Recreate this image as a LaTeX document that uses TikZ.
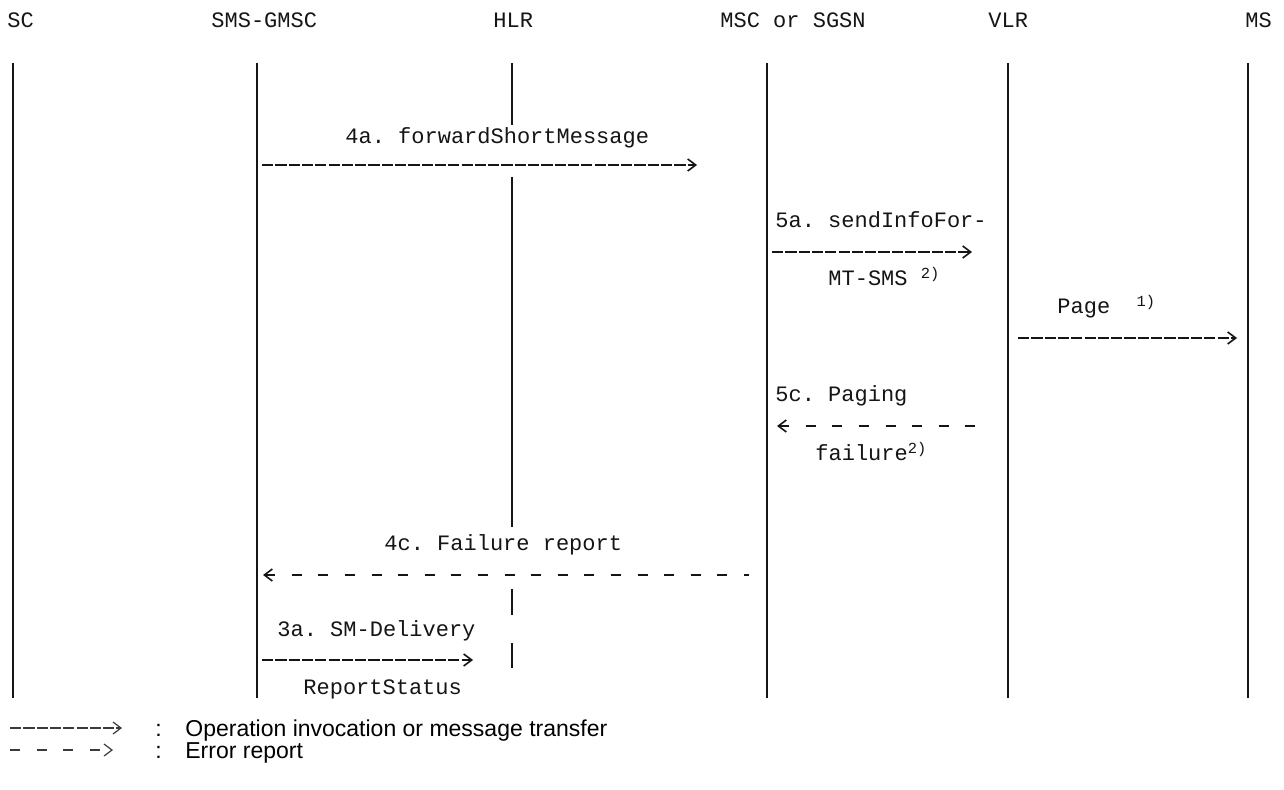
\documentclass[tikz,border=0pt]{standalone}
\usepackage{fontspec}
\setmainfont{Liberation Sans}
\setmonofont{Liberation Mono}
\usetikzlibrary{arrows.meta,positioning,calc}
\definecolor{Ink}{HTML}{151515}
\definecolor{Key}{HTML}{3A3A3A}

\tikzset{
  lbl/.style={font=\ttfamily\fontsize{11}{13}\selectfont, text=Ink, inner sep=0pt, anchor=base west},
  key/.style={font=\fontsize{11.5}{14}\selectfont, text=black, inner sep=0pt, anchor=base west},
  life/.style={draw=Ink, line width=0.9pt},
  msg/.style={draw=Ink, line width=0.8pt, dash pattern=on 5.6pt off 1.05pt},
  err/.style={draw=Ink, line width=0.8pt, dash pattern=on 5pt off 8.3pt},
}

\begin{document}
\begin{tikzpicture}[x=0.5pt, y=-0.5pt, >={Straight Barb[length=4pt,width=6pt]}]
  \fill[white] (0,0) rectangle (1284,790);
  \useasboundingbox (0,0) rectangle (1284,790);

  % entities
  \node[lbl] (sc)   at (7,28)    {SC};
  \node[lbl] (gmsc) at (211,28)  {SMS-GMSC};
  \node[lbl] (hlr)  at (493,28)  {HLR};
  \node[lbl] (msc)  at (720,28)  {MSC or SGSN};
  \node[lbl] (vlr)  at (988,28)  {VLR};
  \node[lbl] (ms)   at (1245,28) {MS};

  % life lines
  \foreach \n/\x in {sc/13, gmsc/257, msc/767, vlr/1008, ms/1248} {
    \coordinate (\n-t) at (\x,63);
    \coordinate (\n-b) at (\x,698);
    \draw[life] (\n-t) -- (\n-b);
  }
  % the HLR line is cut where the labels cross it
  \foreach \a/\b [count=\i] in {63/125, 177/527, 589/615, 643/668} {
    \coordinate (hlr-\i t) at (512,\a);
    \coordinate (hlr-\i b) at (512,\b);
    \draw[life] (hlr-\i t) -- (hlr-\i b);
  }

  % 4a
  \node[lbl] (t4a) at (345,144) {4a. forwardShortMessage};
  \coordinate (m4a-s) at (262,165);
  \coordinate (m4a-e) at (697,165);
  \draw[msg,->] (m4a-s) -- (m4a-e);

  % 5a
  \node[lbl] (t5a) at (775,228) {5a. sendInfoFor-};
  \coordinate (m5a-s) at (772,252);
  \coordinate (m5a-e) at (972,252);
  \draw[msg,->] (m5a-s) -- (m5a-e);
  \node[lbl] (t5a2) at (828,286) {MT-SMS \textsuperscript{2)}};

  % page
  \node[lbl] (tpg) at (1057,314) {Page~~\textsuperscript{1)}};
  \coordinate (mpg-s) at (1018,338);
  \coordinate (mpg-e) at (1237,338);
  \draw[msg,->] (mpg-s) -- (mpg-e);

  % 5c
  \node[lbl] (t5c) at (775,402) {5c. Paging};
  \coordinate (m5c-e) at (777,426);
  \coordinate (m5c-s) at (988,426);
  \draw[err,<-] (m5c-e) -- (m5c-s);
  \node[lbl] (t5c2) at (815,461) {failure\textsuperscript{2)}};

  % 4c
  \node[lbl] (t4c) at (384,551) {4c. Failure report};
  \coordinate (m4c-e) at (263,575);
  \coordinate (m4c-s) at (749,575);
  \draw[err,<-] (m4c-e) -- (m4c-s);

  % 3a
  \node[lbl] (t3a) at (277,636) {3a. SM-Delivery};
  \coordinate (m3a-s) at (262,660);
  \coordinate (m3a-e) at (473,660);
  \draw[msg,->] (m3a-s) -- (m3a-e);
  \node[lbl] (t3a2) at (303,694) {ReportStatus};

  % legend
  \coordinate (k1-s) at (10,728);
  \coordinate (k1-e) at (122,728);
  \draw[msg,->,draw=Key,line width=0.6pt] (k1-s) -- (k1-e);
  \node[key] (k1c) at (155,736) {:};
  \node[key] (k1t) at (185,736) {Operation invocation or message transfer};
  \coordinate (k2-s) at (10,750);
  \coordinate (k2-e) at (113,750);
  \draw[err,->,draw=Key,line width=0.6pt] (k2-s) -- (k2-e);
  \node[key] (k2c) at (155,758) {:};
  \node[key] (k2t) at (185,758) {Error report};
\end{tikzpicture}
\end{document}
